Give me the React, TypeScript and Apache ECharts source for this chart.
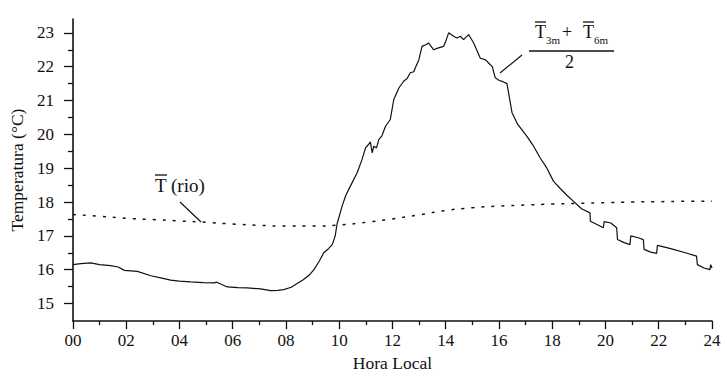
import React, { useEffect, useRef } from "react";
import * as echarts from "echarts";

// Mean of 3 m and 6 m temperature (°C) vs local hour
const meanHours = [
  0.0, 0.3, 0.67, 1.0, 1.42, 1.7, 1.93, 2.42, 2.93, 3.3, 3.67, 4.0, 4.42, 4.9, 5.3, 5.4, 5.8, 6.2, 6.55, 7.05,
  7.42, 7.7, 7.92, 8.2, 8.42, 8.65, 8.9, 9.05, 9.25, 9.42, 9.6, 9.74, 9.85, 9.92, 10.11, 10.25, 10.42, 10.67,
  10.86, 10.99, 11.1, 11.17, 11.24, 11.3, 11.4, 11.49, 11.6, 11.74, 11.92, 12.05, 12.24, 12.42, 12.55, 12.67,
  12.8, 12.86, 12.99, 13.11, 13.25, 13.36, 13.55, 13.7, 13.92, 14.0, 14.11, 14.3, 14.42, 14.55, 14.67, 14.86,
  15.05, 15.3, 15.5, 15.61, 15.75, 15.86, 16.0, 16.17, 16.3, 16.49, 16.7, 17.05, 17.3, 17.55, 17.8, 18.05,
  18.3, 18.55, 18.8, 19.1, 19.42, 19.43, 19.7, 19.92, 19.95, 20.2, 20.42, 20.45, 20.7, 20.92, 20.95, 21.2,
  21.42, 21.45, 21.7, 21.92, 21.95, 22.3, 22.55, 23.0, 23.42, 23.45, 23.7, 23.92, 23.95, 24.0,
];
const meanTemps = [
  16.15, 16.18, 16.2, 16.15, 16.12, 16.08, 15.98, 15.95, 15.82, 15.76, 15.69, 15.66, 15.64, 15.62, 15.61, 15.63,
  15.49, 15.47, 15.46, 15.43, 15.38, 15.39, 15.41, 15.48, 15.59, 15.7, 15.86, 16.0, 16.25, 16.5, 16.62, 16.74,
  17.0, 17.35, 17.88, 18.2, 18.47, 18.86, 19.26, 19.6, 19.7, 19.78, 19.45, 19.65, 19.6, 19.85, 19.95, 20.24,
  20.44, 21.03, 21.37, 21.57, 21.65, 21.82, 21.85, 21.97, 22.2, 22.6, 22.65, 22.7, 22.5, 22.55, 22.6, 22.75,
  23.0, 22.9, 22.85, 22.9, 22.8, 22.95, 22.7, 22.25, 22.2, 22.11, 22.0, 21.67, 21.6, 21.55, 21.5, 20.64, 20.3,
  19.94, 19.65, 19.3, 19.0, 18.61, 18.4, 18.2, 18.02, 17.8, 17.68, 17.43, 17.33, 17.24, 17.42, 17.38, 17.24,
  16.89, 16.8, 16.74, 17.0, 16.95, 16.89, 16.6, 16.52, 16.48, 16.72, 16.65, 16.6, 16.5, 16.4, 16.15, 16.05,
  16.0, 16.15, 16.05,
];

// River temperature (°C)
const rioHours = [0, 1, 2, 3, 4, 5, 6, 7, 8, 9, 10, 11, 12, 13, 14, 15, 16, 17, 18, 19, 20, 21, 22, 23, 24];
const rioTemps = [
  17.63, 17.58, 17.52, 17.48, 17.44, 17.4, 17.35, 17.31, 17.29, 17.29, 17.32, 17.4, 17.5, 17.62, 17.75, 17.83,
  17.88, 17.91, 17.94, 17.96, 17.98, 18.0, 18.01, 18.02, 18.02,
];

const yMajorTicks = [15, 16, 17, 18, 19, 20, 21, 22, 23];
const yMinorTicks = [15.5, 16.5, 17.5, 18.5, 19.5, 20.5, 21.5, 22.5];

const FONT = "Liberation Serif";
const INK = "#111";

export default function App() {
  const ref = useRef<HTMLDivElement>(null);
  useEffect(() => {
    if (!ref.current) return;
    document.body.style.margin = "0";
    const chart = echarts.init(ref.current, null, { renderer: "svg" });
    const meanData = meanHours.map((h, i) => [h, meanTemps[i]]);
    const rioData = rioHours.map((h, i) => [h, rioTemps[i]]);
    const ovl = (x1: number, x2: number, y: number) => ({
      type: "line",
      shape: { x1, y1: y, x2, y2: y },
      style: { stroke: INK, lineWidth: 1.3 },
    });
    const txt = (x: number, y: number, text: string, size: number) => ({
      type: "text",
      x,
      y,
      style: { text, fontFamily: FONT, fontSize: size, fill: INK },
    });
    chart.setOption({
      animation: false,
      backgroundColor: "#fff",
      textStyle: { fontFamily: FONT },
      grid: { left: 72, right: 15, top: 19, bottom: 55 },
      xAxis: {
        type: "value",
        min: 0,
        max: 24,
        interval: 2,
        name: "Hora Local",
        nameLocation: "middle",
        nameGap: 32,
        nameTextStyle: { fontFamily: FONT, fontSize: 17.5, color: INK },
        axisLine: { lineStyle: { color: INK, width: 1.6 } },
        axisTick: { inside: false, length: 8, lineStyle: { color: INK, width: 1.3 } },
        minorTick: { show: true, splitNumber: 2, length: 4, lineStyle: { color: INK, width: 1.3 } },
        splitLine: { show: false },
        minorSplitLine: { show: false },
        axisLabel: {
          fontFamily: FONT,
          fontSize: 17,
          color: INK,
          margin: 11,
          formatter: (v: number) => String(v).padStart(2, "0"),
        },
      },
      yAxis: [
        {
          type: "value",
          min: 14.48,
          max: 23.41,
          name: "Temperatura (°C)",
          nameLocation: "middle",
          nameGap: 45,
          nameTextStyle: { fontFamily: FONT, fontSize: 17.5, color: INK },
          axisLine: { show: true, lineStyle: { color: INK, width: 1.6 } },
          axisTick: { show: true, length: 9, customValues: yMajorTicks, lineStyle: { color: INK, width: 1.3 } },
          axisLabel: { fontFamily: FONT, fontSize: 17, color: INK, margin: 19, customValues: yMajorTicks },
          splitLine: { show: false },
        },
        {
          type: "value",
          position: "left",
          min: 14.48,
          max: 23.41,
          axisLine: { show: false },
          axisTick: { show: true, length: 5, customValues: yMinorTicks, lineStyle: { color: INK, width: 1.3 } },
          axisLabel: { show: false },
          splitLine: { show: false },
        },
      ],
      series: [
        {
          type: "line",
          data: meanData,
          showSymbol: false,
          lineStyle: { color: INK, width: 1.2 },
        },
        {
          type: "line",
          data: rioData,
          showSymbol: false,
          smooth: true,
          lineStyle: { color: INK, width: 1.5, type: [3, 7] },
        },
      ],
      graphic: [
        // T(rio) annotation
        txt(155, 176, "T", 19),
        ovl(155, 167, 175),
        txt(171, 176, "(rio)", 19),
        { type: "line", shape: { x1: 180, y1: 202, x2: 201, y2: 222 }, style: { stroke: INK, lineWidth: 1.2 } },
        // (T3m + T6m)/2 annotation
        txt(535, 23, "T", 18),
        ovl(535, 546, 22),
        txt(546, 34, "3m", 11),
        txt(562, 23, "+", 18),
        txt(583, 23, "T", 18),
        ovl(583, 594, 22),
        txt(594, 34, "6m", 11),
        ovl(529, 614, 51),
        txt(565, 53, "2", 18),
        { type: "line", shape: { x1: 522, y1: 55, x2: 500, y2: 73 }, style: { stroke: INK, lineWidth: 1.2 } },
      ],
    });
    return () => chart.dispose();
  }, []);
  return <div ref={ref} style={{ width: 727, height: 377 }} />;
}
